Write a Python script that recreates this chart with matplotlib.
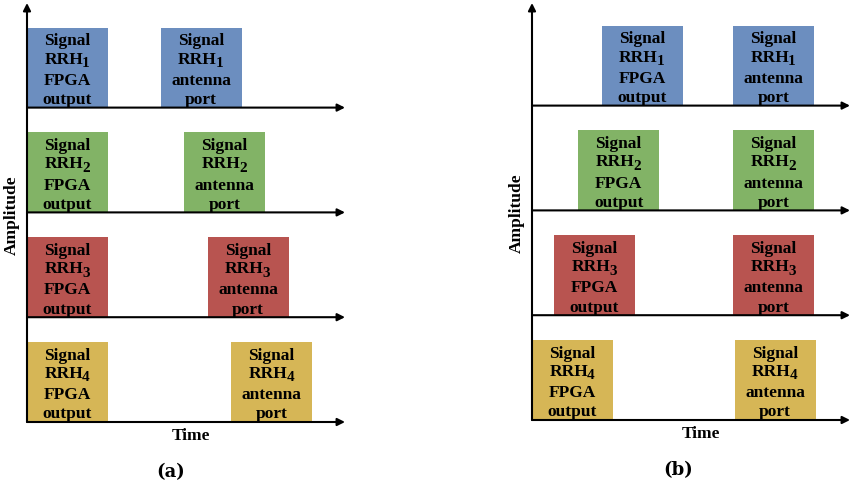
import matplotlib
matplotlib.use("Agg")
import matplotlib.pyplot as plt

plt.rcParams['font.family'] = 'serif'
plt.rcParams['font.serif'] = ['Liberation Serif', 'DejaVu Serif']
plt.rcParams['font.weight'] = 'bold'

# ---- data ----
rrh_ids = ['1', '2', '3', '4']
row_colors = ['#6c8ebf', '#82b366', '#b85450', '#d6b656']
row_base = [3.93, 2.62, 1.31, 0.0]          # baseline amplitude offset of each row
pulse_amplitude = [1.0, 1.0, 1.0, 1.0]
pulse_width = 1.0

a_fpga_start = [0.0, 0.0, 0.0, 0.0]
a_antenna_start = [1.65, 1.94, 2.23, 2.52]
b_fpga_start = [0.86, 0.57, 0.27, 0.0]
b_antenna_start = [2.48, 2.48, 2.48, 2.50]

fpga_lines = ['Signal', 'RRH', 'FPGA', 'output']
antenna_lines = ['Signal', 'RRH', 'antenna', 'port']
line_offsets = [0.78, 0.55, 0.285, 0.045]

panel_labels = ['(a)', '(b)']
xlabel = 'Time'
ylabel = 'Amplitude'

W, H = 850, 492
FS = 12.5
fig = plt.figure(figsize=(W / 100, H / 100), dpi=100)

X_MAX = 318 / 81

def rrh_label(ax, cx, y, digit):
    # "RRH" followed by a lowered, slightly smaller digit, centred as a whole
    w_rrh = 2.222 * FS
    w_dig = 0.5 * FS * 0.88
    left = -(w_rrh + w_dig) / 2
    ax.annotate('RRH', xy=(cx, y), xytext=(left, 0), textcoords='offset points',
                ha='left', va='baseline', fontsize=FS, fontweight='bold', zorder=3)
    ax.annotate(digit, xy=(cx, y), xytext=(left + w_rrh - 0.6, -0.2 * FS),
                textcoords='offset points', ha='left', va='baseline',
                fontsize=FS * 0.88, fontweight='bold', zorder=3)

def draw_panel(ax, fpga_start, antenna_start, ymax, label, time_x, label_x):
    ax.set_xlim(0, X_MAX)
    ax.set_ylim(0, ymax)
    ax.axis('off')
    for i in range(len(rrh_ids)):
        for starts, lines in ((fpga_start, fpga_lines), (antenna_start, antenna_lines)):
            ax.bar(starts[i], pulse_amplitude[i], width=pulse_width, bottom=row_base[i],
                   align='edge', color=row_colors[i], edgecolor='none', zorder=1)
            cx = starts[i] + pulse_width / 2
            for txt, off in zip(lines, line_offsets):
                y = row_base[i] + off * pulse_amplitude[i]
                if txt == 'RRH':
                    rrh_label(ax, cx, y, rrh_ids[i])
                else:
                    ax.text(cx, y, txt, ha='center', va='baseline', fontsize=FS,
                            fontweight='bold', zorder=3)
        ax.annotate('', xy=(X_MAX, row_base[i]), xytext=(0, row_base[i]),
                    arrowprops=dict(arrowstyle='-|>', lw=1.5, color='black',
                                    mutation_scale=11, shrinkA=0, shrinkB=0),
                    zorder=4, annotation_clip=False)
    ax.annotate('', xy=(0, ymax), xytext=(0, 0),
                arrowprops=dict(arrowstyle='-|>', lw=1.5, color='black',
                                mutation_scale=11, shrinkA=0, shrinkB=0),
                zorder=4, annotation_clip=False)
    ax.text(time_x, -0.175, xlabel, ha='center', va='center', fontsize=FS,
            fontweight='bold')
    ax.text(-0.185, 2.59, ylabel, ha='center', va='center', rotation=90,
            fontsize=FS, fontweight='bold')
    ax.text(label_x, -0.62, label, ha='center', va='center',
            fontsize=13, family='DejaVu Serif', fontweight='bold')

ax_a = fig.add_axes([27 / W, (H - 422) / H, 318 / W, 419 / H])
draw_panel(ax_a, a_fpga_start, a_antenna_start, 419 / 80, panel_labels[0], 2.02, 1.77)

ax_b = fig.add_axes([532 / W, (H - 420) / H, 318 / W, 417 / H])
draw_panel(ax_b, b_fpga_start, b_antenna_start, 417 / 80, panel_labels[1], 2.09, 1.8)

fig.savefig('out.png', dpi=100)
